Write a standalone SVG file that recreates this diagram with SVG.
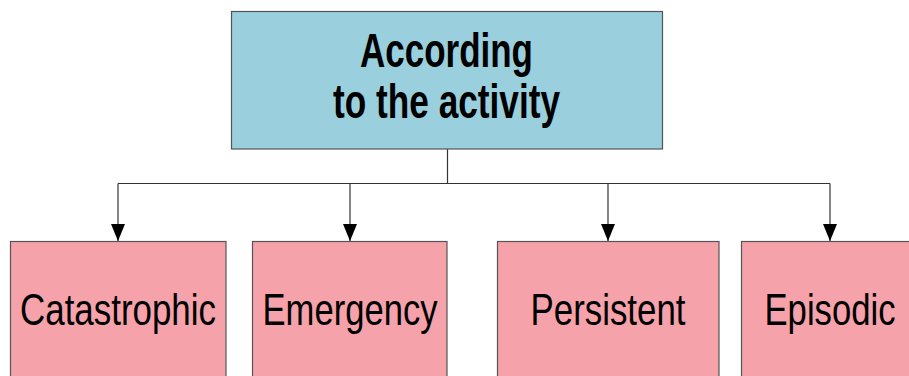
<svg xmlns="http://www.w3.org/2000/svg" width="909" height="376" viewBox="0 0 909 376">
<style>
.box{stroke:#555;stroke-width:1.2}
.top{fill:#9ACFDD}
.leaf{fill:#F6A2AA}
.t{font-family:"Liberation Sans",Arial,sans-serif;fill:#000;text-anchor:middle}
.tt{font-size:48px;font-weight:bold}
.lt{font-size:44px}
.c{fill:none;stroke:#333;stroke-width:1.2}
</style>
<defs>
<marker id="ah" markerWidth="17" markerHeight="14" refX="17" refY="7" orient="auto" markerUnits="userSpaceOnUse" viewBox="0 0 17 14">
<path d="M0,0 L17,7 L0,14 Z" fill="#000"/>
</marker>
</defs>
<rect width="909" height="376" fill="#fff"/>
<g id="connectors">
<path class="c" d="M447.5,149 V183.5"/>
<path class="c" d="M118,183.5 H830"/>
<path class="c" d="M118,183.5 V241" marker-end="url(#ah)"/>
<path class="c" d="M350,183.5 V241" marker-end="url(#ah)"/>
<path class="c" d="M608,183.5 V241" marker-end="url(#ah)"/>
<path class="c" d="M830,183.5 V241" marker-end="url(#ah)"/>
</g>
<g id="root">
<rect class="box top" x="231.5" y="11.5" width="431" height="137.5"/>
<text class="t tt" x="446.5" y="67" textLength="173" lengthAdjust="spacingAndGlyphs">According</text>
<text class="t tt" x="446.5" y="118" textLength="227" lengthAdjust="spacingAndGlyphs">to the activity</text>
</g>
<g id="catastrophic">
<rect class="box leaf" x="10.5" y="241.5" width="215.5" height="140"/>
<text class="t lt" x="118" y="325" textLength="196" lengthAdjust="spacingAndGlyphs">Catastrophic</text>
</g>
<g id="emergency">
<rect class="box leaf" x="252.5" y="241.5" width="194.5" height="140"/>
<text class="t lt" x="350" y="325" textLength="175" lengthAdjust="spacingAndGlyphs">Emergency</text>
</g>
<g id="persistent">
<rect class="box leaf" x="497.5" y="241.5" width="221.5" height="140"/>
<text class="t lt" x="608" y="325" textLength="155" lengthAdjust="spacingAndGlyphs">Persistent</text>
</g>
<g id="episodic">
<rect class="box leaf" x="741.5" y="241.5" width="180" height="140"/>
<text class="t lt" x="830" y="325" textLength="131" lengthAdjust="spacingAndGlyphs">Episodic</text>
</g>
</svg>
